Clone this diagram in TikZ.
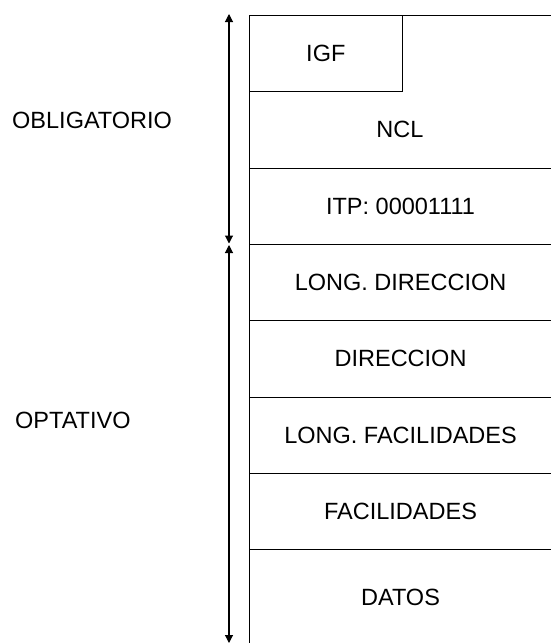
\documentclass[tikz,border=0pt]{standalone}
\usepackage{fontspec}
\setmainfont{Liberation Sans}
\usetikzlibrary{arrows.meta}
\begin{document}
\begin{tikzpicture}[x=1pt,y=-1pt,
  txt/.style={font=\fontsize{23.5}{27}\selectfont, inner sep=0pt},
  cell/.style={draw, line width=1.1pt, minimum width=302pt, minimum height=76.3pt,
    anchor=north west, inner sep=0pt, font=\fontsize{23.5}{27}\selectfont},
  span/.style={line width=1.1pt, {Triangle[length=8pt,width=8pt]}-{Triangle[length=8pt,width=8pt]}}]
\useasboundingbox (0,0) rectangle (550,643);
% header with IGF and NCL
\node[cell, minimum height=152.6pt] (hdr) at (249,15) {};
\node[cell, minimum width=152.5pt] (igf) at (249,15) {IGF};
\node[txt] (ncl) at (400,129.5) {NCL};
\node[cell] (itp) at (249,167.6) {ITP: 00001111};
\node[cell] (ldir) at (249,243.9) {LONG. DIRECCION};
\node[cell] (dir) at (249,320.2) {DIRECCION};
\node[cell] (lfac) at (249,396.5) {LONG. FACILIDADES};
\node[cell] (fac) at (249,472.8) {FACILIDADES};
\node[cell, minimum height=96pt] (datos) at (249,549.1) {DATOS};
% side labels
\node[txt, anchor=west] (obl) at (12,120) {OBLIGATORIO};
\node[txt, anchor=west] (opt) at (15,420) {OPTATIVO};
% arrows
\coordinate (a1) at (229,14);
\coordinate (a2) at (229,243.5);
\coordinate (b1) at (229,245);
\coordinate (b2) at (229,643);
\draw[span] (a2) -- (a1);
\draw[span] (b1) -- (b2);
\end{tikzpicture}
\end{document}
